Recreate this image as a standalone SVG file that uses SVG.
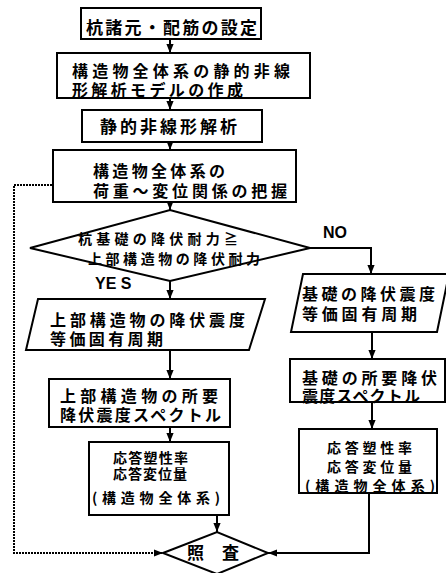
<svg xmlns="http://www.w3.org/2000/svg" width="446" height="573" viewBox="0 0 446 573">
<style>
.b{fill:#fff;stroke:#000;stroke-width:2}
.t{font-family:"Noto Sans CJK JP","Noto Sans",sans-serif;font-weight:bold;font-size:16px;fill:#000}
.s{font-size:14px}
.l{font-family:"Liberation Sans",Arial,sans-serif;font-weight:bold;font-size:16px;fill:#000}
.c{fill:none;stroke:#000;stroke-width:2}
.d{fill:none;stroke:#000;stroke-width:2;stroke-dasharray:2 1}
</style>
<defs>
<marker id="a" viewBox="0 0 10 10" refX="10" refY="5" markerWidth="4.5" markerHeight="4.5" orient="auto" markerUnits="strokeWidth">
<path d="M0,1 L10,5 L0,9 Z" fill="#000"/>
</marker>
</defs>
<rect width="446" height="573" fill="#fff"/>
<g id="connectors">
<path class="c" d="M170,39V53" marker-end="url(#a)"/>
<path class="c" d="M170,98V110" marker-end="url(#a)"/>
<path class="c" d="M170,142V150" marker-end="url(#a)"/>
<path class="c" d="M170,202V210" marker-end="url(#a)"/>
<path class="c" d="M170,281V299" marker-end="url(#a)"/>
<path class="c" d="M170,350V379" marker-end="url(#a)"/>
<path class="c" d="M170,427V442" marker-end="url(#a)"/>
<path class="c" d="M217,515V532" marker-end="url(#a)"/>
<path class="c" d="M310,248H371V274" marker-end="url(#a)"/>
<path class="c" d="M372,332V359" marker-end="url(#a)"/>
<path class="c" d="M372,402V429" marker-end="url(#a)"/>
<path class="c" d="M369,493V553H268" marker-end="url(#a)"/>
<path class="d" d="M52,185H14V553H163" marker-end="url(#a)"/>
<text class="l" x="323" y="238">NO</text>
<text class="l" x="95" y="289">YE S</text>
</g>
<g id="n1">
<rect class="b" x="81" y="8" width="180" height="31"/>
<text class="t" x="86" y="34" style="font-size:17px" textLength="171" lengthAdjust="spacing">杭諸元・配筋の設定</text>
</g>
<g id="n2">
<rect class="b" x="57" y="53" width="253" height="45"/>
<text class="t" x="72" y="77" textLength="218" lengthAdjust="spacing">構造物全体系の静的非線</text>
<text class="t" x="72" y="96" textLength="171" lengthAdjust="spacing">形解析モデルの作成</text>
</g>
<g id="n3">
<rect class="b" x="82" y="110" width="180" height="32"/>
<text class="t" x="100" y="133" style="font-size:17px" textLength="137" lengthAdjust="spacing">静的非線形解析</text>
</g>
<g id="n4">
<rect class="b" x="53" y="150" width="243" height="52"/>
<text class="t" x="93" y="177" textLength="132" lengthAdjust="spacing">構造物全体系の</text>
<text class="t" x="93" y="197" textLength="194" lengthAdjust="spacing">荷重～変位関係の把握</text>
</g>
<g id="n5">
<polygon class="b" points="30,248 170,210 310,248 170,281"/>
<text class="t s" x="78" y="244" textLength="160" lengthAdjust="spacing">杭基礎の降伏耐力≧</text>
<text class="t s" x="88" y="264" textLength="172" lengthAdjust="spacing">上部構造物の降伏耐力</text>
</g>
<g id="n6">
<polygon class="b" points="38,299 265,299 249,350 26,350"/>
<text class="t" x="50" y="326" textLength="195" lengthAdjust="spacing">上部構造物の降伏震度</text>
<text class="t" x="50" y="345" textLength="113" lengthAdjust="spacing">等価固有周期</text>
</g>
<g id="n7">
<rect class="b" x="49" y="379" width="181" height="48"/>
<text class="t" x="60" y="402" textLength="158" lengthAdjust="spacing">上部構造物の所要</text>
<text class="t" x="60" y="421" textLength="161" lengthAdjust="spacing">降伏震度スペクトル</text>
</g>
<g id="n8">
<rect class="b" x="89" y="442" width="140" height="73"/>
<text class="t s" x="113" y="463" textLength="75" lengthAdjust="spacing">応答塑性率</text>
<text class="t s" x="113" y="479" textLength="74" lengthAdjust="spacing">応答変位量</text>
<text class="t s" x="92" y="503" textLength="128" lengthAdjust="spacing">(構造物全体系)</text>
</g>
<g id="n9">
<polygon class="b" points="303,274 449,274 437,332 291,332"/>
<text class="t" x="302" y="300" textLength="133" lengthAdjust="spacing">基礎の降伏震度</text>
<text class="t" x="302" y="320" textLength="115" lengthAdjust="spacing">等価固有周期</text>
</g>
<g id="n10">
<rect class="b" x="290" y="359" width="155" height="43"/>
<text class="t" x="302" y="384" textLength="135" lengthAdjust="spacing">基礎の所要降伏</text>
<text class="t" x="302" y="402" textLength="118" lengthAdjust="spacing">震度スペクトル</text>
</g>
<g id="n11">
<rect class="b" x="299" y="429" width="138" height="64"/>
<text class="t s" x="327" y="453" textLength="85" lengthAdjust="spacing">応答塑性率</text>
<text class="t s" x="327" y="472" textLength="85" lengthAdjust="spacing">応答変位量</text>
<text class="t s" x="305" y="491" textLength="130" lengthAdjust="spacing">(構造物全体系)</text>
</g>
<g id="n12">
<polygon class="b" points="163,553 217,532 268,553 217,574"/>
<text class="t" x="187" y="559" style="font-size:17px">照</text>
<text class="t" x="222" y="559" style="font-size:17px">査</text>
</g>
</svg>
